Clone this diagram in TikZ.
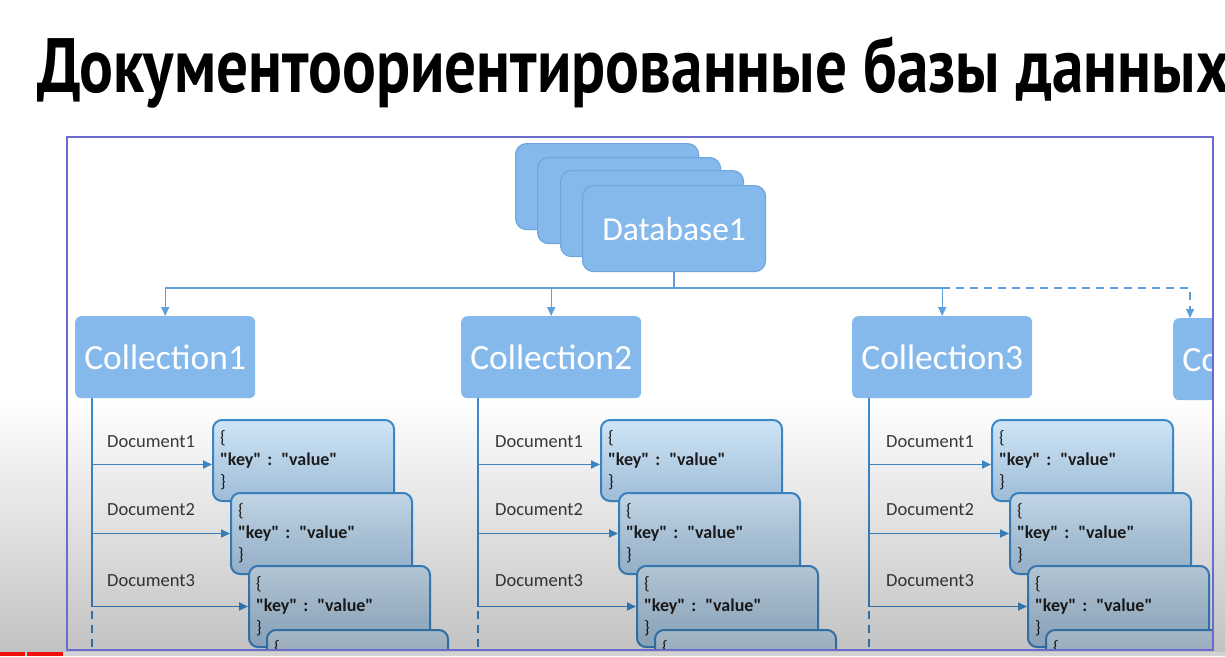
\documentclass[tikz,border=0pt]{standalone}
\usepackage{fontspec}
\setmainfont{Carlito}[Ligatures=TeXOff]
\newfontfamily\titlefont{PT Sans}
\usetikzlibrary{arrows.meta,fadings}

\definecolor{boxblue}{HTML}{85B9EC}
\definecolor{boxedge}{HTML}{6DA6DE}
\definecolor{linkblue}{HTML}{5DA0DC}
\definecolor{docedge}{HTML}{3E8DD0}
\definecolor{doctop}{HTML}{D4EAFB}
\definecolor{docbot}{HTML}{B0D1EE}
\definecolor{frameblue}{HTML}{6B6BCF}
\definecolor{labelgray}{HTML}{3C3C3C}
\definecolor{keytext}{HTML}{1E1E1E}
\definecolor{barred}{HTML}{F01010}
\definecolor{bargray}{HTML}{D2D2D2}

% soft darkening towards the bottom edge
\tikzfading[name=fadedown, top color=transparent!100, bottom color=transparent!0]

\tikzset{
  dbbox/.style={draw=boxedge, line width=1.2pt, fill=boxblue, rounded corners=11pt,
    minimum width=183pt, minimum height=86pt, inner sep=0pt, anchor=north west,
    text=white, font=\fontsize{33.5}{36}\selectfont},
  collbox/.style={fill=boxblue, rounded corners=6pt, minimum width=180pt,
    minimum height=82pt, inner sep=0pt, anchor=north west, text=white,
    font=\fontsize{35.5}{40}\selectfont},
  docbox/.style={draw=docedge, line width=2pt, rounded corners=9pt,
    top color=doctop, bottom color=docbot, text width=167pt, inner xsep=7pt,
    inner ysep=0pt, minimum height=81pt, align=left, anchor=north west,
    text=keytext, font=\fontsize{18}{22}\selectfont},
  doclabel/.style={anchor=west, inner sep=0pt, text=labelgray,
    font=\fontsize{18.5}{20}\selectfont},
  link/.style={draw=linkblue, line width=1.4pt},
  doclink/.style={draw=docedge, line width=1.8pt},
  tip/.style={-{Triangle[length=9pt,width=8pt]}},
  dashline/.style={dash pattern=on 8pt off 6pt},
}

\newcommand\jsonbody{\{\\\textbf{"key" : "value"}\\\}}

\begin{document}
\begin{tikzpicture}[x=1pt,y=-1pt]
\useasboundingbox (0,0) rectangle (1225,656);
\fill[white] (0,0) rectangle (1225,656);

% heading
\node[anchor=base west, inner sep=0pt] (title) at (37,92)
  {\resizebox{1192pt}{\height}{\titlefont\bfseries\fontsize{77}{80}\selectfont
   Документоориентированные базы данных}};

\begin{scope}
\clip (67,137) rectangle (1213,650);

% database stack
\node[dbbox] (db4) at (515,143) {};
\node[dbbox] (db3) at (537,157) {};
\node[dbbox] (db2) at (560,170) {};
\node[dbbox] (db) at (582,185) {Database1};

% collections
\node[collbox] (c1) at (75,316) {Collection1};
\node[collbox] (c2) at (461,316) {Collection2};
\node[collbox] (c3) at (852,316) {Collection3};
\node[collbox] (c4) at (1173,318) {Collection4};

% database -> collections
\coordinate (bus) at (0,288);
\coordinate (c4in) at ([xshift=17pt]c4.north west);
\draw[link] (db.south) -- (db.south |- bus);
\draw[link] (c1.north |- bus) -- (c3.north |- bus);
\foreach \c in {c1,c2,c3}
  \draw[link,tip] (\c.north |- bus) -- (\c.north);
\draw[link,tip,dashline] (c3.north |- bus) -| (c4in);

% documents of each collection
\foreach \n/\dx in {1/0, 2/388, 3/779} {
  \node[docbox] (d\n1) at (212+\dx,419) {\jsonbody};
  \node[docbox] (d\n2) at (230+\dx,492) {\jsonbody};
  \node[docbox] (d\n3) at (248+\dx,565) {\jsonbody};
  \node[docbox] (d\n4) at (266+\dx,629) {\jsonbody};
  \node[doclabel] (l\n1) at (107+\dx,442) {Document1};
  \node[doclabel] (l\n2) at (107+\dx,510) {Document2};
  \node[doclabel] (l\n3) at (107+\dx,581) {Document3};
  \coordinate (k\n) at ([xshift=17pt]c\n.south west);
  \coordinate (a\n) at ([yshift=-4pt]d\n1.west);
  \draw[doclink] (k\n) -- (k\n |- d\n3.west) coordinate (e\n);
  \draw[doclink,dashline] ([yshift=-4pt]e\n) -- ++(0,50);
  \draw[doclink,tip] (k\n |- a\n) -- (a\n);
  \draw[doclink,tip] (k\n |- d\n2.west) -- (d\n2.west);
  \draw[doclink,tip] (k\n |- d\n3.west) -- (d\n3.west);
}
\end{scope}

% lower shadow
\fill[black, path fading=fadedown, fill opacity=0.24] (0,400) rectangle (1225,652);

% frame
\draw[frameblue, line width=2.5pt] (67,137) rectangle (1213,650);

% progress bar
\fill[bargray] (0,652) rectangle (1225,656);
\fill[barred] (0,652) rectangle (25,656);
\fill[barred] (27,652) rectangle (63,656);
\end{tikzpicture}
\end{document}
